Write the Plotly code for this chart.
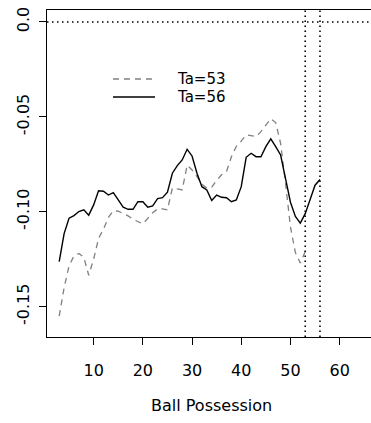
import plotly.graph_objects as go

# Ball possession grid and the two estimated curves
possession_56 = list(range(3, 57))
effect_56 = [
    -0.1263, -0.1115, -0.1034, -0.1020, -0.0999, -0.0990, -0.1018, -0.0964,
    -0.0889, -0.0892, -0.0912, -0.0899, -0.0938, -0.0976, -0.0987, -0.0987,
    -0.0947, -0.0947, -0.0976, -0.0969, -0.0931, -0.0926, -0.0897, -0.0797,
    -0.0757, -0.0727, -0.0671, -0.0706, -0.0797, -0.0868, -0.0885, -0.0941,
    -0.0912, -0.0924, -0.0926, -0.0947, -0.0938, -0.0868, -0.0713, -0.0692,
    -0.0710, -0.0710, -0.0657, -0.0616, -0.0657, -0.0701, -0.0825, -0.0950,
    -0.1025, -0.1060, -0.1010, -0.0940, -0.0860, -0.0830,
]

possession_53 = list(range(3, 54))
effect_53 = [
    -0.1550, -0.1400, -0.1285, -0.1233, -0.1220, -0.1240, -0.1335, -0.1250,
    -0.1140, -0.1092, -0.1030, -0.0995, -0.0997, -0.1010, -0.1022, -0.1040,
    -0.1052, -0.1064, -0.1035, -0.1005, -0.0985, -0.0985, -0.0990, -0.0875,
    -0.0880, -0.0885, -0.0755, -0.0780, -0.0815, -0.0855, -0.0876, -0.0870,
    -0.0835, -0.0805, -0.0789, -0.0710, -0.0655, -0.0628, -0.0595, -0.0598,
    -0.0604, -0.0578, -0.0545, -0.0510, -0.0530, -0.0640, -0.0850, -0.1080,
    -0.1215, -0.1270, -0.1210,
]

# Reference lines: thresholds Ta and the zero level
threshold_lines = [53, 56]
zero_level = [0.0]

x_ticks = [10, 20, 30, 40, 50, 60]
y_ticks = [0.0, -0.05, -0.10, -0.15]
y_tick_labels = ["0.0", "-0.05", "-0.10", "-0.15"]
legend_labels = ["Ta=53", "Ta=56"]

FONT = "DejaVu Sans"
GREY = "#808080"

fig = go.Figure()
fig.add_trace(go.Scatter(
    x=possession_53, y=effect_53, mode="lines", name=legend_labels[0],
    line=dict(color=GREY, width=1.3, dash="6px,5px"), showlegend=False,
))
fig.add_trace(go.Scatter(
    x=possession_56, y=effect_56, mode="lines", name=legend_labels[1],
    line=dict(color="black", width=1.4), showlegend=False,
))

dotted = dict(color="black", width=1.6, dash="1.5px,3.5px")
for v in threshold_lines:
    fig.add_shape(type="line", xref="x", yref="paper", x0=v, x1=v, y0=0, y1=1,
                  line=dotted, layer="above")
for h in zero_level:
    fig.add_shape(type="line", xref="paper", yref="y", x0=0, x1=1, y0=h, y1=h,
                  line=dotted, layer="above")

# Hand-placed legend in the upper left of the panel
legend_rows = [
    (legend_labels[0], 0.789, dict(color=GREY, width=1.3, dash="6px,5px")),
    (legend_labels[1], 0.734, dict(color="black", width=1.4)),
]
for label, yy, style in legend_rows:
    fig.add_shape(type="line", xref="paper", yref="paper",
                  x0=0.2037, x1=0.3333, y0=yy, y1=yy, line=style)
    fig.add_annotation(xref="paper", yref="paper", x=0.395, y=yy, text=label,
                       showarrow=False, xanchor="left", yanchor="middle",
                       font=dict(family=FONT, size=15, color="black"))

fig.add_annotation(xref="paper", yref="paper", x=0.509, y=-0.211,
                   text="Ball Possession", showarrow=False,
                   xanchor="center", yanchor="middle",
                   font=dict(family=FONT, size=16, color="black"))

fig.update_xaxes(
    range=[0.52, 66.37], tickvals=x_ticks, ticks="outside", ticklen=7,
    tickwidth=1, tickcolor="black", showline=True, linecolor="black",
    linewidth=1, mirror=True, showgrid=False, zeroline=False,
    tickfont=dict(family=FONT, size=16, color="black"),
    ticklabelstandoff=12,
)
fig.update_yaxes(
    range=[-0.166, 0.0063], tickvals=y_ticks, ticktext=y_tick_labels,
    ticks="outside", ticklen=7, tickwidth=1, tickcolor="black",
    showline=True, linecolor="black", linewidth=1, mirror=False,
    showgrid=False, zeroline=False, tickangle=-90,
    tickfont=dict(family=FONT, size=16, color="black"),
    ticklabelstandoff=4,
)

fig.update_layout(
    width=371, height=423,
    margin=dict(l=47, r=0, t=10, b=86, pad=0),
    plot_bgcolor="white", paper_bgcolor="white",
)

fig.write_html("out.html")
